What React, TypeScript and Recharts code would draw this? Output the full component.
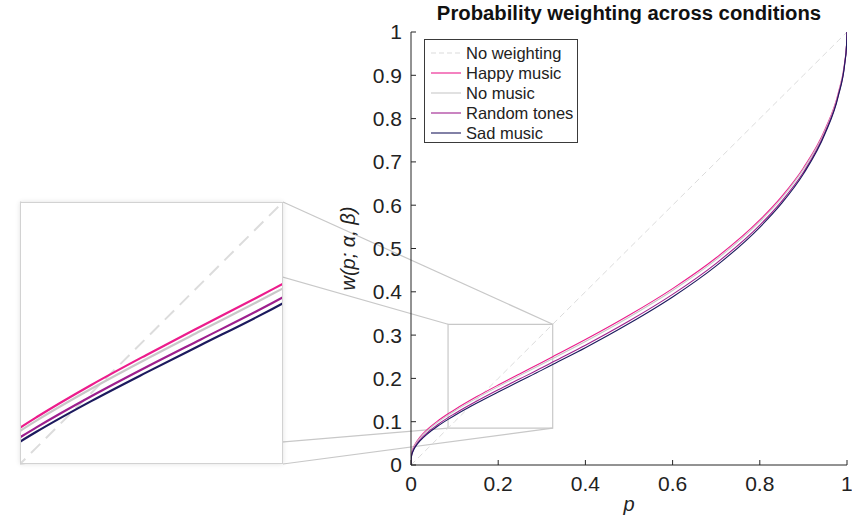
import React from 'react';
import { LineChart, Line, XAxis, YAxis, ReferenceArea, ReferenceLine } from 'recharts';

// ---------- data ----------
const pValues = [0, 0.0001, 0.001, 0.005, 0.01, 0.02, 0.04, 0.06, 0.085, 0.1, 0.15, 0.2, 0.25, 0.3, 0.325, 0.4, 0.5, 0.6, 0.7, 0.8, 0.85, 0.9, 0.95, 0.98, 0.995, 0.999, 1];
const noWeighting = [0, 0.0001, 0.001, 0.005, 0.01, 0.02, 0.04, 0.06, 0.085, 0.1, 0.15, 0.2, 0.25, 0.3, 0.325, 0.4, 0.5, 0.6, 0.7, 0.8, 0.85, 0.9, 0.95, 0.98, 0.995, 0.999, 1];
const happyMusic = [0, 0.0122, 0.0232, 0.0387, 0.0492, 0.0638, 0.0843, 0.1007, 0.1182, 0.1278, 0.1574, 0.1847, 0.211, 0.2369, 0.2501, 0.2897, 0.3458, 0.4074, 0.4786, 0.566, 0.62, 0.686, 0.776, 0.859, 0.932, 0.971, 1];
const noMusic = [0, 0.0115, 0.0222, 0.0371, 0.0475, 0.0617, 0.0818, 0.0979, 0.1152, 0.1247, 0.1539, 0.181, 0.207, 0.2327, 0.2459, 0.2853, 0.3413, 0.4029, 0.4742, 0.562, 0.616, 0.683, 0.773, 0.857, 0.931, 0.971, 1];
const randomTones = [0, 0.0104, 0.0202, 0.0343, 0.0441, 0.0576, 0.077, 0.0925, 0.1094, 0.1185, 0.147, 0.1736, 0.1991, 0.2245, 0.2377, 0.2767, 0.3325, 0.3941, 0.4658, 0.554, 0.609, 0.676, 0.769, 0.854, 0.929, 0.97, 1];
const sadMusic = [0, 0.0096, 0.019, 0.0324, 0.0419, 0.055, 0.0738, 0.089, 0.1054, 0.1145, 0.1426, 0.1687, 0.194, 0.2191, 0.2322, 0.2709, 0.3266, 0.388, 0.4598, 0.549, 0.604, 0.672, 0.766, 0.852, 0.928, 0.97, 1];

const xTicks = [0, 0.2, 0.4, 0.6, 0.8, 1];
const yTicks = [0, 0.1, 0.2, 0.3, 0.4, 0.5, 0.6, 0.7, 0.8, 0.9, 1];
const zoomRange = [0.085, 0.325];

const seriesNames = ['No weighting', 'Happy music', 'No music', 'Random tones', 'Sad music'];

const data = pValues.map((p, i) => ({
  p,
  noWeighting: noWeighting[i],
  happy: happyMusic[i],
  noMusic: noMusic[i],
  random: randomTones[i],
  sad: sadMusic[i],
}));

// ---------- styling ----------
const FONT = "'Liberation Sans', Arial, Helvetica, sans-serif";
const COLORS = {
  noWeighting: '#dcdcdc',
  happy: '#ec1c8c',
  noMusic: '#c8c8c8',
  random: '#9e1f8e',
  sad: '#1c1a5e',
};
const AXIS = '#262626';

// layout of main plot (pixels)
const W = 852;
const H = 515;
const PLOT_LEFT = 411;
const PLOT_RIGHT = 847;
const PLOT_TOP = 32;
const PLOT_BOTTOM = 465;
// inset box (pixels)
const INSET = { left: 20, top: 202, width: 263, height: 262 };

const pxToX = (px: number) => (px - PLOT_LEFT) / (PLOT_RIGHT - PLOT_LEFT);
const pxToY = (py: number) => (PLOT_BOTTOM - py) / (PLOT_BOTTOM - PLOT_TOP);

const insetL = pxToX(INSET.left);
const insetR = pxToX(INSET.left + INSET.width);
const insetT = pxToY(INSET.top);
const insetB = pxToY(INSET.top + INSET.height);

const connectors = [
  [{ x: insetL, y: insetT }, { x: zoomRange[0], y: zoomRange[1] }],
  [{ x: insetR, y: insetT }, { x: zoomRange[1], y: zoomRange[1] }],
  [{ x: insetL, y: insetB }, { x: zoomRange[0], y: zoomRange[0] }],
  [{ x: insetR, y: insetB }, { x: zoomRange[1], y: zoomRange[0] }],
];

const YLabel = (props: any) => {
  const vb = props.viewBox || {};
  const x = (vb.x || 0) + (vb.width || 0) - 56;
  const y = (vb.y || 0) + (vb.height || 0) / 2;
  return (
    <text x={x} y={y} transform={`rotate(-90 ${x} ${y})`} textAnchor="middle" fontFamily={FONT} fontSize={20} fontStyle="italic" fill="#222">
      w(p; α, β)
    </text>
  );
};

const XLabel = (props: any) => {
  const vb = props.viewBox || {};
  const x = (vb.x || 0) + (vb.width || 0) / 2;
  const y = (vb.y || 0) + 46;
  return (
    <text x={x} y={y} textAnchor="middle" fontFamily={FONT} fontSize={20} fontStyle="italic" fill="#222">
      p
    </text>
  );
};

const legendItems = [
  { name: seriesNames[0], color: COLORS.noWeighting, dash: '5 3' },
  { name: seriesNames[1], color: COLORS.happy },
  { name: seriesNames[2], color: COLORS.noMusic },
  { name: seriesNames[3], color: COLORS.random },
  { name: seriesNames[4], color: COLORS.sad },
];

const LegendBox = () => (
  <div
    style={{
      position: 'absolute',
      left: 424,
      top: 39,
      border: '1px solid #3a3a3a',
      background: '#fff',
      padding: '3px 6px 1px 6px',
      fontFamily: FONT,
      fontSize: 16.5,
      color: '#222',
      boxSizing: 'border-box',
      width: 154,
      height: 104,
    }}
  >
    {legendItems.map((it) => (
      <div key={it.name} style={{ display: 'flex', alignItems: 'center', height: 20, lineHeight: '20px', whiteSpace: 'nowrap' }}>
        <svg width={30} height={20} style={{ marginRight: 5, flex: 'none' }}>
          <line x1={0} y1={10} x2={30} y2={10} stroke={it.color} strokeWidth={1.1} strokeDasharray={it.dash} />
        </svg>
        <span>{it.name}</span>
      </div>
    ))}
  </div>
);

const mainLines = (width: number, insetMode: boolean) => [
  <Line key="nw" type="linear" dataKey="noWeighting" stroke={COLORS.noWeighting} strokeWidth={insetMode ? 2 : 1} strokeDasharray={insetMode ? '13 8' : '6 4'} dot={false} activeDot={false} isAnimationActive={false} />,
  <Line key="h" type="monotone" dataKey="happy" stroke={COLORS.happy} strokeWidth={width} dot={false} activeDot={false} isAnimationActive={false} />,
  <Line key="nm" type="monotone" dataKey="noMusic" stroke={COLORS.noMusic} strokeWidth={width} dot={false} activeDot={false} isAnimationActive={false} />,
  <Line key="r" type="monotone" dataKey="random" stroke={COLORS.random} strokeWidth={width} dot={false} activeDot={false} isAnimationActive={false} />,
  <Line key="s" type="monotone" dataKey="sad" stroke={COLORS.sad} strokeWidth={width} dot={false} activeDot={false} isAnimationActive={false} />,
];

export default function App() {
  return (
    <div style={{ position: 'absolute', left: 0, top: 0, width: W, height: H, background: '#fff', overflow: 'hidden' }}>
      <LineChart width={W} height={H} data={data} margin={{ top: PLOT_TOP, right: W - PLOT_RIGHT, bottom: 0, left: 0 }}>
        <XAxis
          dataKey="p"
          type="number"
          domain={[0, 1]}
          allowDataOverflow
          ticks={xTicks}
          tickFormatter={(v: number) => String(v)}
          height={H - PLOT_BOTTOM}
          tickSize={-5}
          tickMargin={16}
          stroke={AXIS}
          tick={{ fontFamily: FONT, fontSize: 21, fill: '#222' }}
          label={<XLabel />}
        />
        <YAxis
          type="number"
          domain={[0, 1]}
          allowDataOverflow
          ticks={yTicks}
          tickFormatter={(v: number) => String(v)}
          width={PLOT_LEFT}
          tickSize={-5}
          tickMargin={14}
          stroke={AXIS}
          tick={{ fontFamily: FONT, fontSize: 21, fill: '#222' }}
          label={<YLabel />}
        />
        {connectors.map((seg, i) => (
          <ReferenceLine key={'c' + i} segment={seg as any} stroke="#c8c8c8" strokeWidth={1.2} ifOverflow="visible" />
        ))}
        <ReferenceArea x1={zoomRange[0]} x2={zoomRange[1]} y1={zoomRange[0]} y2={zoomRange[1]} stroke="#c8c8c8" strokeWidth={1.2} fill="none" fillOpacity={0} ifOverflow="visible" />
        {mainLines(1.1, false)}
      </LineChart>

      <svg width={W} height={30} style={{ position: 'absolute', left: 0, top: 0 }}>
        <text x={(PLOT_LEFT + PLOT_RIGHT) / 2} y={20} textAnchor="middle" fontFamily={FONT} fontSize={20.3} fontWeight="bold" fill="#111">
          Probability weighting across conditions
        </text>
      </svg>

      <LegendBox />

      <div
        style={{
          position: 'absolute',
          left: INSET.left,
          top: INSET.top,
          width: INSET.width,
          height: INSET.height,
          background: '#fff',
          boxShadow: '0 0 5px rgba(0,0,0,0.12)',
        }}
      >
        <LineChart width={INSET.width} height={INSET.height} data={data} margin={{ top: 0, right: 0, bottom: 0, left: 0 }}>
          <XAxis dataKey="p" type="number" domain={zoomRange} allowDataOverflow hide />
          <YAxis type="number" domain={zoomRange} allowDataOverflow hide />
          {mainLines(2.2, true)}
        </LineChart>
        <div style={{ position: 'absolute', left: 0, top: 0, width: INSET.width, height: INSET.height, border: '1.5px solid #d2d2d2', boxSizing: 'border-box', pointerEvents: 'none' }} />
      </div>
    </div>
  );
}
